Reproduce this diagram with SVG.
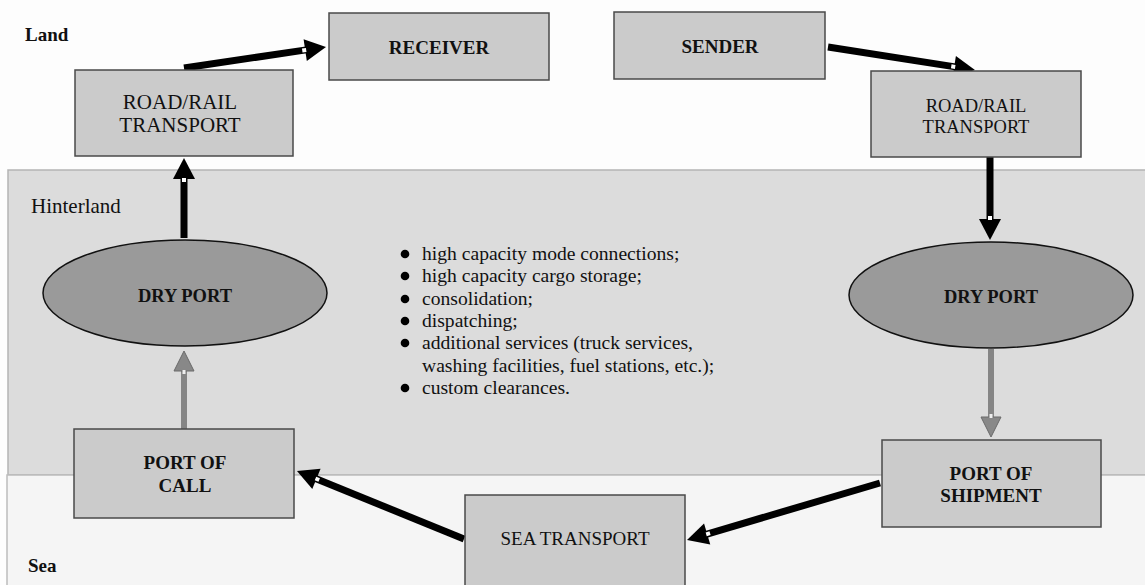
<svg xmlns="http://www.w3.org/2000/svg" width="1145" height="585" viewBox="0 0 1145 585">
<style>
.box{fill:#cbcbcb;stroke:#4a4a4a;stroke-width:1.5}
.ell{fill:#9a9a9a;stroke:#111;stroke-width:1.5}
.t{font-family:"Liberation Serif","Times New Roman",serif;fill:#111;text-anchor:middle}
.b{font-weight:bold}
.lbl{font-family:"Liberation Serif","Times New Roman",serif;fill:#111}
.blk{stroke:#000;stroke-width:7;fill:none}
.gry{stroke:#858585;stroke-width:6;fill:none}
</style>
<defs>
<marker id="ah" markerUnits="userSpaceOnUse" markerWidth="30" markerHeight="30" viewBox="-5 -15 30 30" refX="0" refY="0" orient="auto" overflow="visible">
<path d="M-1,-11 L20,0 L-1,11 Z" fill="#000"/>
<rect x="-4" y="-2" width="4" height="4" fill="#fff"/>
</marker>
<marker id="ahg" markerUnits="userSpaceOnUse" markerWidth="30" markerHeight="30" viewBox="-5 -15 30 30" refX="0" refY="0" orient="auto" overflow="visible">
<path d="M-1,-10 L19,0 L-1,10 Z" fill="#888" stroke="#6a6a6a" stroke-width="1"/>
<rect x="-4" y="-1.5" width="4" height="3" fill="#eee"/>
</marker>
</defs>
<g id="regions">
<rect x="0" y="0" width="1145" height="585" fill="#fdfdfd"/>
<rect x="8" y="170" width="1140" height="305" fill="#dcdcdc" stroke="#b4b4b4" stroke-width="1.5"/>
<rect x="7" y="475" width="1140" height="115" fill="#f5f5f5" stroke="#bcbcbc" stroke-width="1.5"/>
<text class="lbl b" x="25" y="41" font-size="19">Land</text>
<text class="lbl" x="31" y="213" font-size="21">Hinterland</text>
<text class="lbl b" x="28" y="572" font-size="19">Sea</text>
</g>
<g id="connectors">
<line class="blk" x1="184" y1="68" x2="306.2" y2="49.9" marker-end="url(#ah)"/>
<line class="blk" x1="828" y1="47" x2="955.2" y2="66.9" marker-end="url(#ah)"/>
<line class="blk" x1="990" y1="157" x2="990" y2="220" marker-end="url(#ah)"/>
<line class="gry" x1="991" y1="349" x2="991" y2="418" marker-end="url(#ahg)"/>
<line class="blk" x1="880" y1="483" x2="706.2" y2="534.3" marker-end="url(#ah)"/>
<line class="blk" x1="464" y1="539" x2="315.5" y2="478.5" marker-end="url(#ah)"/>
<line class="gry" x1="184" y1="429" x2="184" y2="370" marker-end="url(#ahg)"/>
<line class="blk" x1="184" y1="238" x2="184" y2="178" marker-end="url(#ah)"/>
</g>
<g id="receiver">
<rect class="box" x="329" y="13" width="220" height="67"/>
<text class="t b" x="439" y="54" font-size="19">RECEIVER</text>
</g>
<g id="sender">
<rect class="box" x="614" y="12" width="211" height="67"/>
<text class="t b" x="720" y="53" font-size="19">SENDER</text>
</g>
<g id="road-rail-left">
<rect class="box" x="75" y="70" width="218" height="86"/>
<text class="t" x="180" y="109" font-size="21">ROAD/RAIL</text>
<text class="t" x="180" y="132" font-size="21">TRANSPORT</text>
</g>
<g id="road-rail-right">
<rect class="box" x="871" y="71" width="210" height="86"/>
<text class="t" x="976" y="112" font-size="18.5">ROAD/RAIL</text>
<text class="t" x="976" y="133" font-size="18.5">TRANSPORT</text>
</g>
<g id="dry-port-left">
<ellipse class="ell" cx="185" cy="293" rx="142" ry="53"/>
<text class="t b" x="185" y="302" font-size="18.5">DRY PORT</text>
</g>
<g id="dry-port-right">
<ellipse class="ell" cx="991" cy="295" rx="142" ry="53"/>
<text class="t b" x="991" y="303" font-size="18.5">DRY PORT</text>
</g>
<g id="port-of-call">
<rect class="box" x="74" y="429" width="220" height="89"/>
<text class="t b" x="185" y="469" font-size="19">PORT OF</text>
<text class="t b" x="185" y="492" font-size="19">CALL</text>
</g>
<g id="port-of-shipment">
<rect class="box" x="882" y="440" width="219" height="87"/>
<text class="t b" x="991" y="480" font-size="19">PORT OF</text>
<text class="t b" x="991" y="502" font-size="19">SHIPMENT</text>
</g>
<g id="sea-transport">
<rect class="box" x="465" y="495" width="220" height="95"/>
<text class="t" x="575" y="545" font-size="19">SEA TRANSPORT</text>
</g>
<g id="services-list">
<g fill="#000">
<circle cx="405" cy="254" r="4.3"/>
<circle cx="405" cy="276" r="4.3"/>
<circle cx="405" cy="299" r="4.3"/>
<circle cx="405" cy="321" r="4.3"/>
<circle cx="405" cy="343" r="4.3"/>
<circle cx="405" cy="388" r="4.3"/>
</g>
<g class="lbl" font-size="19.6">
<text x="422" y="260">high capacity mode connections;</text>
<text x="422" y="282">high capacity cargo storage;</text>
<text x="422" y="305">consolidation;</text>
<text x="422" y="327">dispatching;</text>
<text x="422" y="349">additional services (truck services,</text>
<text x="422" y="372">washing facilities, fuel stations, etc.);</text>
<text x="422" y="394">custom clearances.</text>
</g>
</g>
</svg>
